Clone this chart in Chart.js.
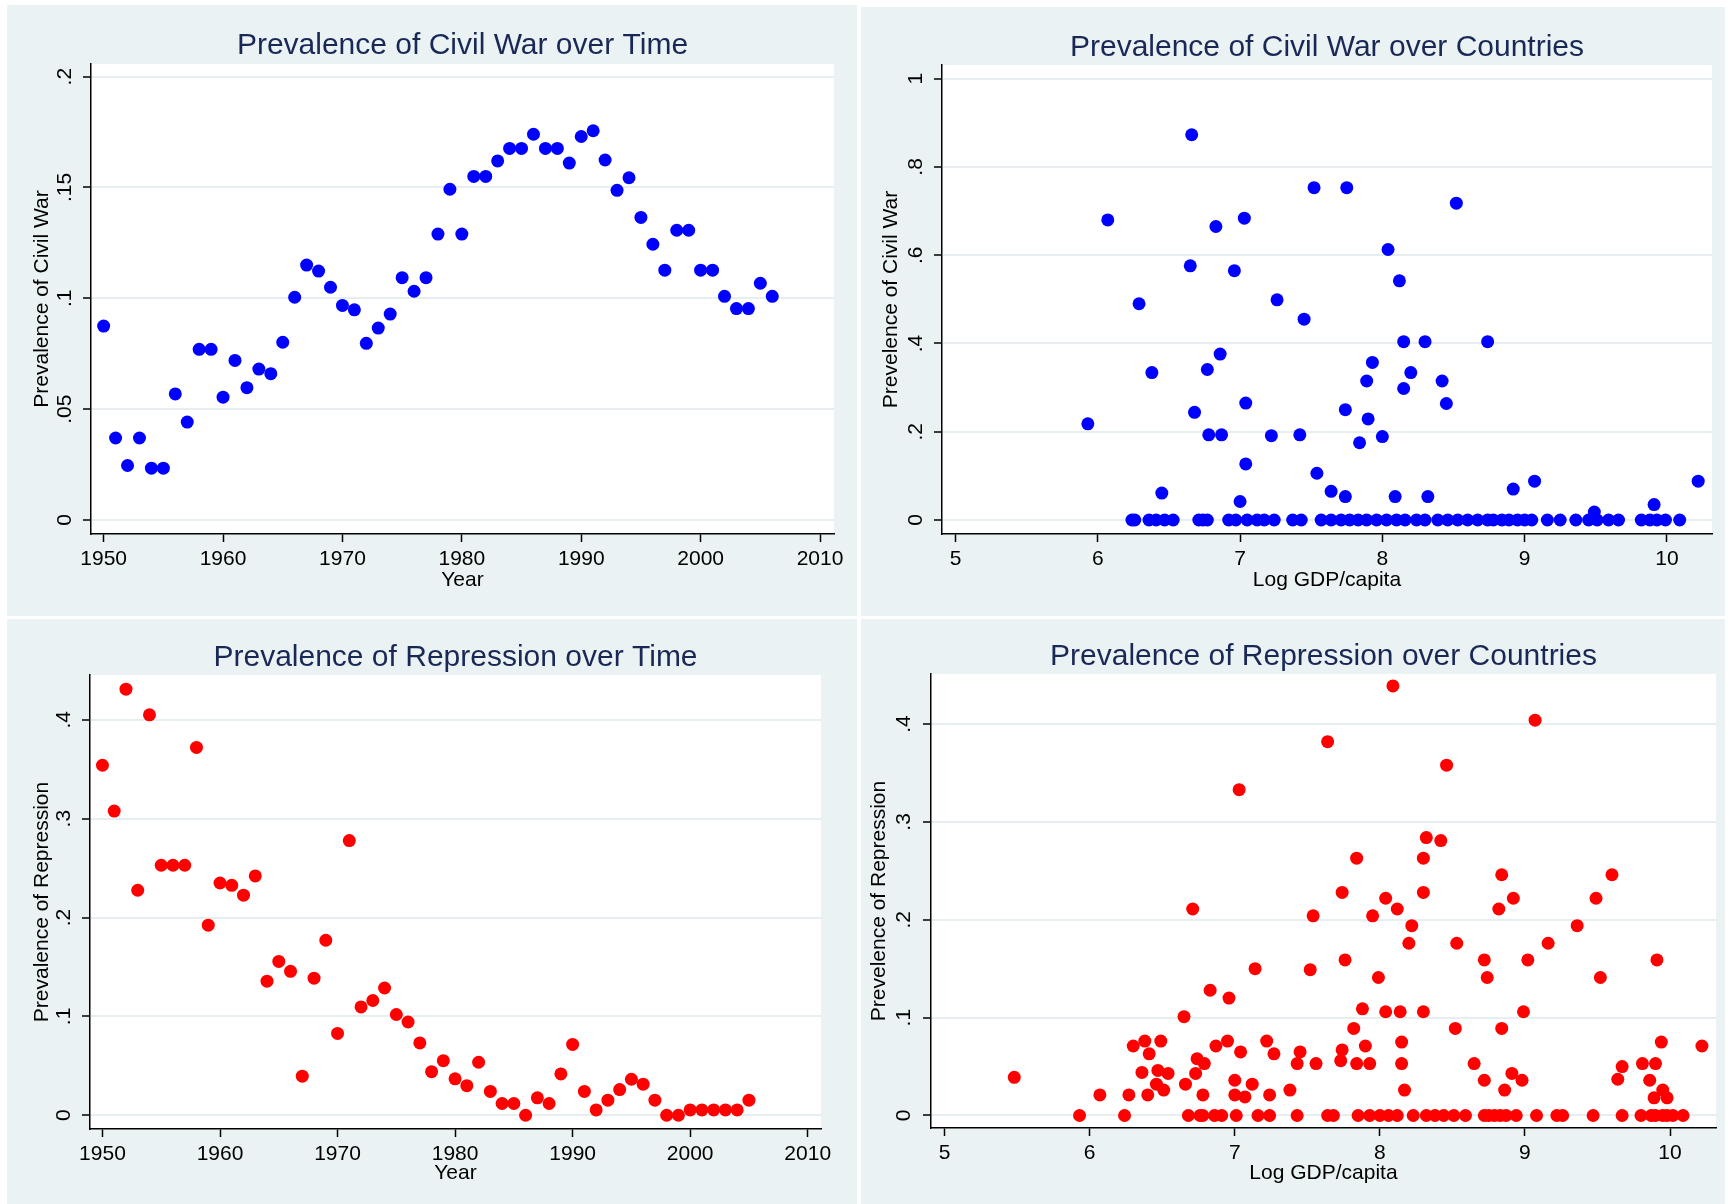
<!DOCTYPE html>
<html>
<head>
<meta charset="utf-8">
<title>Civil war and repression</title>
<script src="https://cdn.jsdelivr.net/npm/chart.js@4.4.1/dist/chart.umd.min.js"></script>
<style>
  body { margin: 0; background: #fff; width: 1728px; height: 1204px; overflow: hidden; position: relative; }
  canvas { position: absolute; background: #eaf2f3; }
</style>
</head>
<body>
<canvas id="warTime" width="850" height="611" style="left:7px;top:5px"></canvas>
<canvas id="warCountry" width="864" height="609" style="left:861px;top:7px"></canvas>
<canvas id="repTime" width="850" height="585" style="left:7px;top:619px"></canvas>
<canvas id="repCountry" width="864" height="585" style="left:861px;top:619px"></canvas>
<script>
// ---- data ----

// Civil war prevalence by year
const warYears = [1950, 1951, 1952, 1953, 1954, 1955, 1956, 1957, 1958, 1959,
  1960, 1961, 1962, 1963, 1964, 1965, 1966, 1967, 1968, 1969,
  1970, 1971, 1972, 1973, 1974, 1975, 1976, 1977, 1978, 1979,
  1980, 1981, 1982, 1983, 1984, 1985, 1986, 1987, 1988, 1989,
  1990, 1991, 1992, 1993, 1994, 1995, 1996, 1997, 1998, 1999,
  2000, 2001, 2002, 2003, 2004, 2005, 2006];
const warByYear = [0.0875, 0.037, 0.0246, 0.037, 0.0234, 0.0234, 0.0569, 0.0442, 0.077, 0.077,
  0.0554, 0.072, 0.0597, 0.0681, 0.066, 0.0802, 0.1005, 0.115, 0.1123, 0.105,
  0.0968, 0.0948, 0.0797, 0.0866, 0.0929, 0.1093, 0.1032, 0.1093, 0.129, 0.1492,
  0.129, 0.155, 0.155, 0.162, 0.1676, 0.1676, 0.174, 0.1676, 0.1676, 0.161,
  0.173, 0.1756, 0.1624, 0.1487, 0.1544, 0.1365, 0.1244, 0.1127, 0.1307, 0.1307,
  0.1127, 0.1127, 0.1009, 0.0954, 0.0954, 0.1068, 0.1009];

// Civil war prevalence by country (log GDP/capita, prevalence)
const warGdp = [5.93, 6.07, 6.29, 6.38, 6.45, 6.66, 6.65, 6.68, 6.77, 6.78,
  6.83, 6.86, 6.87, 6.96, 7.00, 7.03, 7.04, 7.04, 7.22, 7.26,
  7.42, 7.45, 7.52, 7.54, 7.64, 7.74, 7.74, 7.75, 7.84, 7.89,
  7.90, 7.93, 8.00, 8.04, 8.09, 8.12, 8.15, 8.15, 8.20, 8.30,
  8.32, 8.42, 8.45, 8.52, 8.74, 8.92, 9.07, 9.49, 9.91, 10.22,
  6.24, 6.26, 6.36, 6.41, 6.47, 6.53, 6.71, 6.74, 6.77, 6.92,
  6.97, 7.05, 7.12, 7.17, 7.24, 7.37, 7.43, 7.57, 7.64, 7.71,
  7.77, 7.83, 7.89, 7.96, 8.03, 8.10, 8.16, 8.24, 8.30, 8.39,
  8.46, 8.53, 8.60, 8.67, 8.74, 8.78, 8.84, 8.89, 8.95, 9.00,
  9.05, 9.16, 9.25, 9.36, 9.45, 9.51, 9.59, 9.66, 9.82, 9.88,
  9.93, 9.99, 10.09];
const warByCountry = [0.218, 0.680, 0.490, 0.334, 0.061, 0.873, 0.576, 0.244, 0.341, 0.193,
  0.665, 0.376, 0.193, 0.565, 0.042, 0.684, 0.265, 0.127, 0.191, 0.499,
  0.193, 0.455, 0.753, 0.106, 0.065, 0.250, 0.053, 0.753, 0.175, 0.315,
  0.229, 0.357, 0.189, 0.613, 0.053, 0.542, 0.404, 0.298, 0.334, 0.404,
  0.053, 0.315, 0.264, 0.718, 0.404, 0.070, 0.088, 0.018, 0.035, 0.088,
  0, 0, 0, 0, 0, 0, 0, 0, 0, 0,
  0, 0, 0, 0, 0, 0, 0, 0, 0, 0,
  0, 0, 0, 0, 0, 0, 0, 0, 0, 0,
  0, 0, 0, 0, 0, 0, 0, 0, 0, 0,
  0, 0, 0, 0, 0, 0, 0, 0, 0, 0,
  0, 0, 0];

// Repression prevalence by year
const repYears = [1950, 1951, 1952, 1953, 1954, 1955, 1956, 1957, 1958, 1959,
  1960, 1961, 1962, 1963, 1964, 1965, 1966, 1967, 1968, 1969,
  1970, 1971, 1972, 1973, 1974, 1975, 1976, 1977, 1978, 1979,
  1980, 1981, 1982, 1983, 1984, 1985, 1986, 1987, 1988, 1989,
  1990, 1991, 1992, 1993, 1994, 1995, 1996, 1997, 1998, 1999,
  2000, 2001, 2002, 2003, 2004, 2005];
const repByYear = [0.354, 0.3077, 0.431, 0.2276, 0.405, 0.2529, 0.2529, 0.2529, 0.372, 0.1923,
  0.2349, 0.2326, 0.2226, 0.2421, 0.1356, 0.1556, 0.1456, 0.0395, 0.1387, 0.177,
  0.0828, 0.2778, 0.1096, 0.1161, 0.1287, 0.1019, 0.0943, 0.0732, 0.0441, 0.0552,
  0.0368, 0.0299, 0.0536, 0.0241, 0.0119, 0.0119, 0, 0.0176, 0.0119, 0.0418,
  0.0716, 0.0241, 0.0054, 0.0153, 0.026, 0.0364, 0.0314, 0.0153, 0, 0,
  0.0054, 0.0054, 0.0054, 0.0054, 0.0054, 0.0153];

// Repression prevalence by country (log GDP/capita, prevalence)
const repGdp = [5.48, 5.93, 6.07, 6.24, 6.27, 6.30, 6.36, 6.38, 6.40, 6.41,
  6.46, 6.47, 6.49, 6.51, 6.54, 6.65, 6.66, 6.68, 6.71, 6.73,
  6.74, 6.76, 6.78, 6.78, 6.79, 6.83, 6.86, 6.87, 6.91, 6.95,
  6.96, 7.00, 7.00, 7.01, 7.03, 7.04, 7.07, 7.12, 7.14, 7.16,
  7.22, 7.24, 7.24, 7.27, 7.38, 7.43, 7.43, 7.45, 7.52, 7.54,
  7.56, 7.64, 7.64, 7.68, 7.73, 7.74, 7.74, 7.76, 7.82, 7.84,
  7.84, 7.85, 7.88, 7.90, 7.93, 7.93, 7.95, 7.99, 8.00, 8.04,
  8.04, 8.06, 8.09, 8.12, 8.12, 8.14, 8.15, 8.15, 8.17, 8.20,
  8.22, 8.23, 8.30, 8.30, 8.30, 8.32, 8.32, 8.38, 8.42, 8.44,
  8.46, 8.51, 8.52, 8.53, 8.59, 8.65, 8.72, 8.72, 8.72, 8.74,
  8.75, 8.79, 8.82, 8.83, 8.84, 8.84, 8.86, 8.87, 8.91, 8.92,
  8.94, 8.98, 8.99, 9.02, 9.07, 9.08, 9.16, 9.22, 9.26, 9.36,
  9.47, 9.49, 9.52, 9.60, 9.64, 9.67, 9.67, 9.80, 9.81, 9.86,
  9.87, 9.89, 9.90, 9.90, 9.91, 9.94, 9.95, 9.95, 9.98, 9.98,
  10.02, 10.09, 10.22];
const repByCountry = [0.039, 0, 0.021, 0, 0.021, 0.071, 0.044, 0.076, 0.021, 0.063,
  0.032, 0.046, 0.076, 0.026, 0.043, 0.101, 0.032, 0, 0.211, 0.043,
  0.058, 0, 0, 0.021, 0.053, 0.128, 0, 0.071, 0, 0.076,
  0.120, 0.036, 0.021, 0, 0.333, 0.065, 0.019, 0.032, 0.150, 0,
  0.076, 0.021, 0, 0.063, 0.026, 0.053, 0, 0.065, 0.149, 0.204,
  0.053, 0, 0.382, 0, 0.056, 0.067, 0.228, 0.159, 0.089, 0.053,
  0.263, 0, 0.109, 0.071, 0.053, 0, 0.204, 0.141, 0, 0.222,
  0.106, 0, 0.439, 0, 0.211, 0.106, 0.075, 0.053, 0.026, 0.176,
  0.194, 0, 0.263, 0.228, 0.106, 0, 0.284, 0, 0.281, 0,
  0.358, 0, 0.089, 0.176, 0, 0.053, 0.159, 0.036, 0, 0.141,
  0, 0, 0.211, 0, 0.089, 0.246, 0.026, 0, 0.043, 0.222,
  0, 0.036, 0.106, 0.159, 0.404, 0, 0.176, 0, 0, 0.194,
  0, 0.222, 0.141, 0.246, 0.037, 0.050, 0, 0, 0.053, 0.036,
  0, 0.018, 0.053, 0, 0.159, 0.075, 0.026, 0, 0.018, 0,
  0, 0, 0.071];

// Axis ticks
const yearTicks = [1950, 1960, 1970, 1980, 1990, 2000, 2010];
const yearTickLabels = ["1950", "1960", "1970", "1980", "1990", "2000", "2010"];
const gdpTicks = [5, 6, 7, 8, 9, 10];
const gdpTickLabels = ["5", "6", "7", "8", "9", "10"];
const warTimeTicks = [0, 0.05, 0.1, 0.15, 0.2];
const warTimeTickLabels = ["0", ".05", ".1", ".15", ".2"];
const warCountryTicks = [0, 0.2, 0.4, 0.6, 0.8, 1];
const warCountryTickLabels = ["0", ".2", ".4", ".6", ".8", "1"];
const repTicks = [0, 0.1, 0.2, 0.3, 0.4];
const repTickLabels = ["0", ".1", ".2", ".3", ".4"];

// ---- look ----
const FONT = "'Liberation Sans', Arial, sans-serif";
const axisFont = { family: FONT, size: 21 };
const titleColor = "#1a2856";
const gridColor = "#e6eef1";

// paint the plot region white
const plotBackground = {
  id: "plotBackground",
  beforeDraw(chart) {
    const { ctx, chartArea: a } = chart;
    ctx.save();
    ctx.fillStyle = "#ffffff";
    ctx.fillRect(a.left, a.top, a.right - a.left, a.bottom - a.top);
    ctx.restore();
  },
};

// panel title centred over the plot region
const panelTitle = {
  id: "panelTitle",
  afterDraw(chart, args, opts) {
    const { ctx, chartArea: a } = chart;
    ctx.save();
    ctx.font = "30px " + FONT;
    ctx.fillStyle = titleColor;
    ctx.textAlign = "center";
    ctx.textBaseline = "middle";
    ctx.fillText(opts.text, (a.left + a.right) / 2, opts.y);
    ctx.restore();
  },
};

function makePanel(id, p) {
  const points = p.xs.map((x, i) => ({ x: x, y: p.ys[i] }));
  return new Chart(document.getElementById(id), {
    type: "scatter",
    data: {
      datasets: [{ data: points, backgroundColor: p.color, borderWidth: 0, pointRadius: 6.5, pointHoverRadius: 6.5 }],
    },
    options: {
      responsive: false,
      animation: false,
      events: [],
      layout: { padding: { left: 0, top: p.area.top, right: p.area.right, bottom: 0 } },
      plugins: {
        legend: { display: false },
        tooltip: { enabled: false },
        panelTitle: { text: p.title, y: p.titleY },
      },
      scales: {
        x: {
          type: "linear",
          min: p.xMin,
          max: p.xMax,
          afterBuildTicks: (s) => { s.ticks = p.xTicks.map((v) => ({ value: v })); },
          afterFit: (s) => { s.height = p.area.xHeight; },
          ticks: {
            font: axisFont, color: "#000", padding: 5, autoSkip: false, maxRotation: 0,
            callback: (v, i) => p.xLabels[i],
          },
          grid: { drawOnChartArea: false, tickLength: 8, tickWidth: 1.5, tickColor: "#000" },
          border: { color: "#000", width: 1.5 },
          title: { display: true, text: p.xTitle, font: axisFont, color: "#000", padding: { top: 0, bottom: p.xTitlePad } },
        },
        y: {
          type: "linear",
          min: p.yMin,
          max: p.yMax,
          afterBuildTicks: (s) => { s.ticks = p.yTicks.map((v) => ({ value: v })); },
          afterFit: (s) => { s.width = p.area.left; },
          ticks: {
            font: axisFont, color: "#000", padding: p.yTickPad, autoSkip: false,
            minRotation: 90, maxRotation: 90, crossAlign: "center",
            callback: (v, i) => p.yLabels[i],
          },
          grid: { color: gridColor, lineWidth: 2, tickLength: 8, tickWidth: 1.5, tickColor: "#000" },
          border: { color: "#000", width: 1.5 },
          title: { display: true, text: p.yTitle, font: axisFont, color: "#000", padding: { top: p.yTitlePad, bottom: 0 } },
        },
      },
    },
    plugins: [plotBackground, panelTitle],
  });
}

makePanel("warTime", {
  xs: warYears, ys: warByYear, color: "#0000ff",
  title: "Prevalence of Civil War over Time", titleY: 41,
  xTitle: "Year", yTitle: "Prevalence of Civil War",
  xMin: 1948.94, xMax: 2011.17, yMin: -0.0063, yMax: 0.2057,
  xTicks: yearTicks, xLabels: yearTickLabels, yTicks: warTimeTicks, yLabels: warTimeTickLabels,
  area: { left: 84, top: 59, right: 23, xHeight: 82 },
  xTitlePad: 23.4, yTitlePad: 22.4, yTickPad: 3.4,
});

makePanel("warCountry", {
  xs: warGdp, ys: warByCountry, color: "#0000ff",
  title: "Prevalence of Civil War over Countries", titleY: 40.5,
  xTitle: "Log GDP/capita", yTitle: "Prevelence of Civil War",
  xMin: 4.905, xMax: 10.317, yMin: -0.0317, yMax: 1.031,
  xTicks: gdpTicks, xLabels: gdpTickLabels, yTicks: warCountryTicks, yLabels: warCountryTickLabels,
  area: { left: 81, top: 58, right: 13, xHeight: 82 },
  xTitlePad: 23.4, yTitlePad: 17.9, yTickPad: 9.2,
});

makePanel("repTime", {
  xs: repYears, ys: repByYear, color: "#ff0000",
  title: "Prevalence of Repression over Time", titleY: 39,
  xTitle: "Year", yTitle: "Prevalence of Repression",
  xMin: 1948.94, xMax: 2011.13, yMin: -0.0139, yMax: 0.4453,
  xTicks: yearTicks, xLabels: yearTickLabels, yTicks: repTicks, yLabels: repTickLabels,
  area: { left: 83, top: 56, right: 36, xHeight: 75 },
  xTitlePad: 17.8, yTitlePad: 22.9, yTickPad: 8.7,
});

makePanel("repCountry", {
  xs: repGdp, ys: repByCountry, color: "#ff0000",
  title: "Prevalence of Repression over Countries", titleY: 37.5,
  xTitle: "Log GDP/capita", yTitle: "Prevelence of Repression",
  xMin: 4.906, xMax: 10.317, yMin: -0.0128, yMax: 0.4512,
  xTicks: gdpTicks, xLabels: gdpTickLabels, yTicks: repTicks, yLabels: repTickLabels,
  area: { left: 70, top: 55, right: 9, xHeight: 76 },
  xTitlePad: 18.4, yTitlePad: 6.1, yTickPad: 10.2,
});
</script>
</body>
</html>
